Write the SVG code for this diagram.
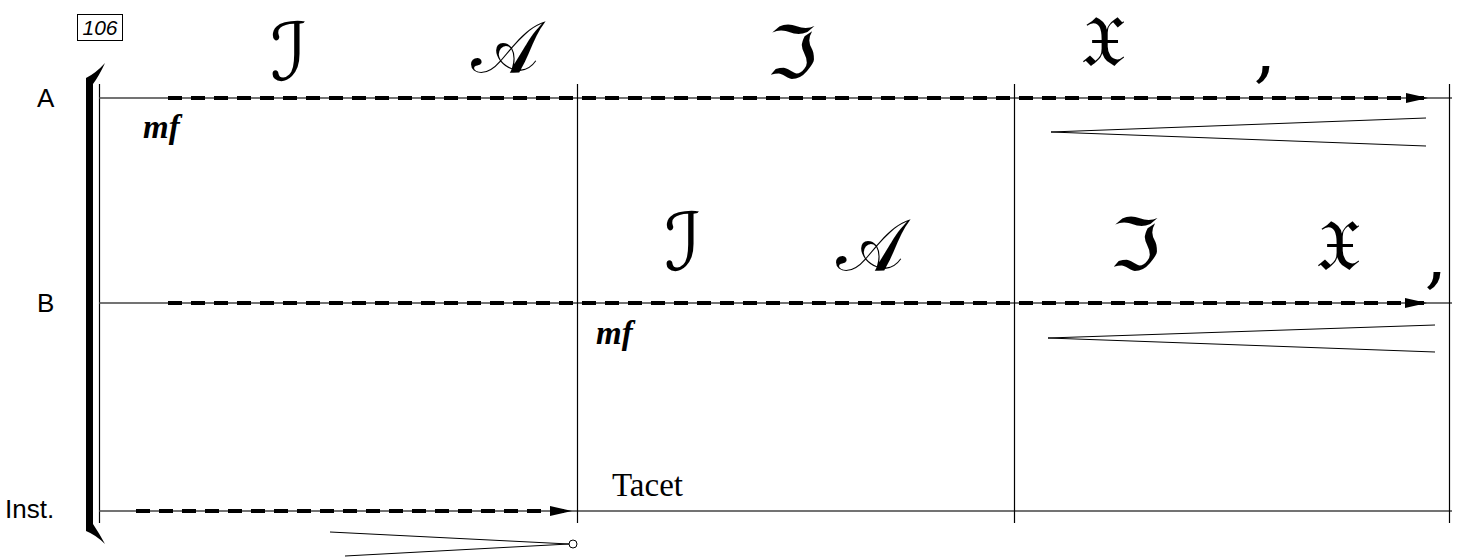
<svg xmlns="http://www.w3.org/2000/svg" width="1458" height="558" viewBox="0 0 1458 558">
<style>
.staff{stroke:#444;stroke-width:1.3;fill:none}
.bar{stroke:#000;stroke-width:1.2;fill:none}
.dash{stroke:#000;stroke-width:4;stroke-dasharray:14 9;fill:none}
.hair{stroke:#000;stroke-width:1;fill:none}
.lbl{font-family:"Liberation Sans",Arial,sans-serif;font-size:26px;fill:#000}
.dyn{font-family:"Liberation Serif","Times New Roman",serif;font-weight:bold;font-style:italic;font-size:33px;fill:#000}
.vow{font-family:"DejaVu Serif","DejaVu Sans",serif;font-size:72px;fill:#000;text-anchor:middle}
.big{font-size:80px}
.com{font-family:"DejaVu Serif","DejaVu Sans",serif;font-size:72px;fill:#000;text-anchor:middle}
</style>
<defs>
<marker id="arr" markerWidth="22" markerHeight="10" refX="22" refY="5" orient="auto" markerUnits="userSpaceOnUse">
<path d="M0,0 L22,5 L0,10 Z" fill="#000"/>
</marker>
</defs>
<rect width="1458" height="558" fill="#fff"/>
<g id="rehearsal">
<rect x="77.5" y="14.5" width="45" height="26" fill="none" stroke="#000" stroke-width="1"/>
<text x="100" y="35" font-family="Liberation Sans,Arial,sans-serif" font-style="italic" font-size="21" text-anchor="middle">106</text>
</g>
<g id="labels">
<text class="lbl" x="37" y="107">A</text>
<text class="lbl" x="37" y="312">B</text>
<text class="lbl" x="5" y="518">Inst.</text>
</g>
<g id="bracket">
<path d="M86,531 L86,78 Q96,73 105,63 Q99,76 93,84 L93,524 Q99,533 105,544 Q96,535 86,531 Z" fill="#000"/>
<line x1="99.5" y1="84" x2="99.5" y2="523" class="bar"/>
</g>
<g id="staves">
<line class="staff" x1="99" y1="98" x2="1452" y2="98"/>
<line class="staff" x1="99" y1="303" x2="1452" y2="303"/>
<line class="staff" x1="99" y1="511" x2="1452" y2="511"/>
<line class="bar" x1="577.5" y1="84" x2="577.5" y2="523"/>
<line class="bar" x1="1014.5" y1="84" x2="1014.5" y2="523"/>
<line class="bar" x1="1449.5" y1="84" x2="1449.5" y2="523"/>
</g>
<g id="connectors">
<line class="dash" x1="168" y1="98" x2="1428" y2="98" marker-end="url(#arr)"/>
<line class="dash" x1="168" y1="303" x2="1427" y2="303" marker-end="url(#arr)"/>
<line class="dash" x1="136" y1="511" x2="572" y2="511" marker-end="url(#arr)"/>
</g>
<g id="staffA">
<text class="vow big" x="289" y="80">ℐ</text>
<text class="vow" x="505" y="72">𝒜</text>
<text class="vow" x="792" y="78">ℑ</text>
<text class="vow" x="1103" y="66">𝔛</text>
<text class="com" x="1265" y="74">,</text>
<text class="dyn" x="143" y="138">mf</text>
<polyline class="hair" points="1426,118 1051,132 1426,146"/>
</g>
<g id="staffB">
<text class="vow big" x="683" y="270">ℐ</text>
<text class="vow" x="870" y="270">𝒜</text>
<text class="vow" x="1135" y="270">ℑ</text>
<text class="vow" x="1338" y="270">𝔛</text>
<text class="com" x="1436" y="280">,</text>
<text class="dyn" x="596" y="344">mf</text>
<polyline class="hair" points="1435,325 1048,338 1435,352"/>
</g>
<g id="staffInst">
<text x="612" y="496" font-family="Liberation Serif,'Times New Roman',serif" font-size="33">Tacet</text>
<polyline class="hair" points="330,532 569,544 345,556"/>
<circle cx="573" cy="544" r="4" fill="#fff" stroke="#000" stroke-width="1"/>
</g>
</svg>
